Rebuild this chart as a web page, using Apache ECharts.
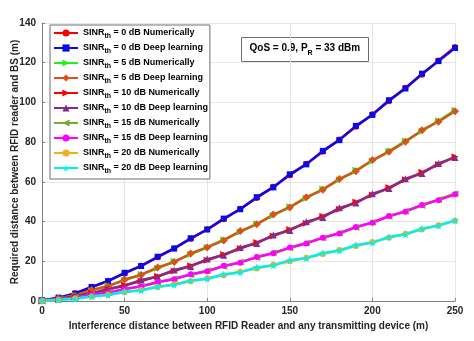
<!DOCTYPE html>
<html><head><meta charset="utf-8">
<script src="https://cdn.jsdelivr.net/npm/echarts@6/dist/echarts.min.js"></script>
<style>html,body{margin:0;padding:0;background:#fff}#c{width:474px;height:341px}</style>
</head><body><div id="c"></div>
<script>
const xs = [0,10,20,30,40,50,60,70,80,90,100,110,120,130,140,150,160,170,180,190,200,210,220,230,240,250];
const sinr0Num = [0,1.5,3.9,6.9,10.2,13.9,17.8,22.0,26.6,31.3,36.1,41.2,46.4,51.9,57.5,63.3,69.1,75.2,81.3,87.7,94.0,100.6,107.4,114.0,121.1,127.9];
const sinr0DL  = [0.4,1.7,3.7,7.1,10.0,14.2,17.6,22.3,26.4,31.6,36.0,41.5,46.2,52.3,57.2,63.8,68.8,75.6,81.0,88.2,93.7,101.1,107.0,114.5,120.8,127.4];
const sinr5Num = [0,1.1,2.9,5.2,7.7,10.4,13.4,16.5,20.0,23.5,27.1,30.9,34.8,38.9,43.1,47.5,51.8,56.4,61.0,65.8,70.5,75.5,80.6,85.5,90.8,96.0];
const sinr5DL  = [0.3,1.3,2.7,5.5,7.4,10.8,13.1,16.9,19.6,23.9,27.0,30.5,35.2,38.6,43.5,47.1,52.3,56.0,61.5,65.3,71.0,75.1,80.2,86.0,90.3,95.6];
const sinr10Num = [0,0.9,2.2,3.9,5.8,7.9,10.1,12.5,15.1,17.8,20.5,23.4,26.4,29.5,32.7,36.0,39.2,42.7,46.2,49.8,53.4,57.1,61.0,64.8,68.8,72.6];
const sinr10DL  = [0.2,1.0,2.5,3.6,6.2,7.6,10.6,12.2,15.6,17.4,21.1,23.0,26.9,29.0,33.3,35.5,39.9,42.1,46.9,49.3,54.0,56.6,61.6,64.2,69.3,72.3];
const sinr15Num = [0,0.6,1.7,2.9,4.3,5.9,7.5,9.3,11.2,13.2,15.2,17.4,19.6,21.9,24.3,26.7,29.2,31.7,34.3,37.0,39.7,42.5,45.3,48.1,51.1,54.0];
const sinr15DL  = [0.2,0.7,1.5,3.1,4.1,6.1,7.3,9.6,11.0,13.5,15.0,17.7,19.3,22.2,24.0,26.9,29.0,31.9,34.0,37.3,39.4,42.8,45.0,48.4,50.8,53.7];
const sinr20Num = [0,0.5,1.2,2.2,3.2,4.4,5.6,6.9,8.4,9.9,11.4,13.0,14.7,16.4,18.2,20.0,21.8,23.7,25.7,27.7,29.7,31.8,33.9,36.0,38.2,40.4];
const sinr20DL  = [0.3,0.6,1.0,2.4,3.0,4.7,5.3,7.3,8.1,10.3,11.1,13.5,14.4,17.0,17.9,20.6,21.5,24.2,25.3,28.2,29.3,32.3,33.5,36.5,37.9,40.6];
const xTicks = [0,50,100,150,200,250];
const yTicks = [0,20,40,60,80,100,120,140];

const seriesDefs = [
  {name:'0 dB Numerically', data:sinr0Num, color:'#ff0000', symbol:'circle', size:6},
  {name:'0 dB Deep learning', data:sinr0DL, color:'#0a0ae6', symbol:'rect', size:6},
  {name:'5 dB Numerically', data:sinr5Num, color:'#22ee22', symbol:'path://M0,0 L10,5 L0,10 Z', size:7},
  {name:'5 dB Deep learning', data:sinr5DL, color:'#d95319', symbol:'diamond', size:8},
  {name:'10 dB Numerically', data:sinr10Num, color:'#ff0000', symbol:'path://M0,0 L10,5 L0,10 Z', size:7},
  {name:'10 dB Deep learning', data:sinr10DL, color:'#7e2f8e', symbol:'triangle', size:7},
  {name:'15 dB Numerically', data:sinr15Num, color:'#77ac30', symbol:'path://M10,0 L0,5 L10,10 Z', size:7},
  {name:'15 dB Deep learning', data:sinr15DL, color:'#ff00ff', symbol:'circle', size:6},
  {name:'20 dB Numerically', data:sinr20Num, color:'#edb120', symbol:'circle', size:6},
  {name:'20 dB Deep learning', data:sinr20DL, color:'#00f0f0', symbol:'path://M50,0 L61,35 L98,35 L68,57 L79,91 L50,70 L21,91 L32,57 L2,35 L39,35 Z', size:8}
];

const font = 'Liberation Sans, Arial, sans-serif';
const chart = echarts.init(document.getElementById('c'));
chart.setOption({
  animation:false,
  backgroundColor:'#ffffff',
  grid:{left:42, right:19, top:23, bottom:40, containLabel:false, outerBoundsMode:'none'},
  xAxis:{type:'value', min:0, max:250, interval:50,
    name:'Interference distance between RFID Reader and any transmitting device (m)',
    nameLocation:'middle', nameGap:20, nameMoveOverlap:false,
    nameTextStyle:{fontFamily:font, fontWeight:'bold', fontSize:10, color:'#262626'},
    axisLine:{lineStyle:{color:'#808080'}},
    axisTick:{inside:true, length:3, lineStyle:{color:'#808080'}},
    axisLabel:{fontFamily:font, fontWeight:'bold', fontSize:10, color:'#262626', margin:5,
      formatter:v=>xTicks.includes(v)?String(v):''},
    splitLine:{show:true, lineStyle:{color:'#e6e6e6', width:1}}
  },
  yAxis:{type:'value', min:0, max:140, interval:20,
    name:'Required distance between RFID reader and BS (m)',
    nameLocation:'middle', nameGap:22, nameMoveOverlap:false,
    nameTextStyle:{fontFamily:font, fontWeight:'bold', fontSize:10, color:'#262626'},
    axisLine:{show:true, lineStyle:{color:'#808080'}},
    axisTick:{show:true, inside:true, length:3, lineStyle:{color:'#808080'}},
    axisLabel:{fontFamily:font, fontWeight:'bold', fontSize:10, color:'#262626', margin:6,
      formatter:v=>yTicks.includes(v)?String(v):''},
    splitLine:{show:true, lineStyle:{color:'#e6e6e6', width:1}}
  },
  legend:{orient:'vertical', left:50, top:25, itemWidth:24, itemHeight:9, itemGap:3,
    padding:[3,2,4,3], backgroundColor:'#ffffff', borderColor:'#6e6e6e', borderWidth:1,
    data:seriesDefs.map(s=>s.name),
    formatter:n=>'{m|SINR}{s|th}{m| = '+n+'}',
    textStyle:{fontFamily:font, fontWeight:'bold', fontSize:9, color:'#000',
      rich:{m:{fontFamily:font, fontWeight:'bold', fontSize:9, color:'#000', lineHeight:10, verticalAlign:'top'},
            s:{fontFamily:font, fontWeight:'bold', fontSize:7, color:'#000', lineHeight:7, padding:[5,0,0,0], verticalAlign:'top'}}}
  },
  graphic:[{type:'group', left:241, top:37, children:[
    {type:'rect', shape:{x:0,y:0,width:127,height:24}, style:{fill:'#fff', stroke:'#6e6e6e', lineWidth:1}},
    {type:'text', x:8, y:6, style:{rich:{
        m:{fontFamily:font, fontWeight:'bold', fontSize:10, fill:'#000', lineHeight:12, verticalAlign:'top'},
        s:{fontFamily:font, fontWeight:'bold', fontSize:7, fill:'#000', lineHeight:8, padding:[6,0,0,0], verticalAlign:'top'}},
      text:'{m|QoS = 0.9, P}{s|R}{m| = 33 dBm}'}}
  ]}],
  series:seriesDefs.map(s=>({
    name:s.name, type:'line', data:xs.map((x,i)=>[x,s.data[i]]),
    symbol:s.symbol, symbolSize:s.size, showSymbol:true,
    lineStyle:{color:s.color, width:2.5}, itemStyle:{color:s.color, borderWidth:0},
    emphasis:{disabled:true}
  }))
});
</script></body></html>
